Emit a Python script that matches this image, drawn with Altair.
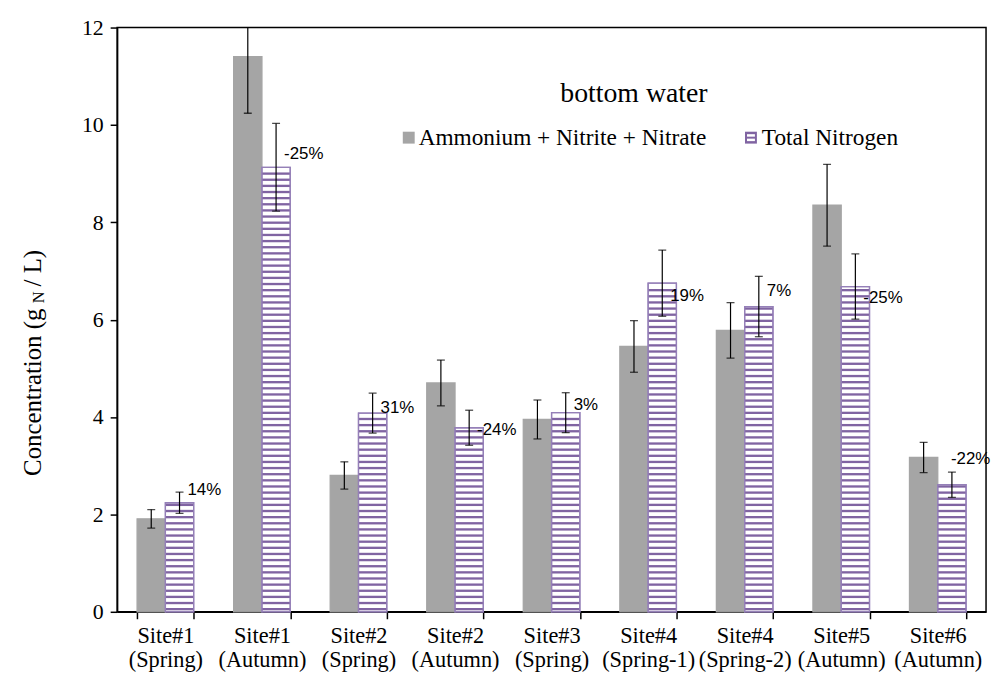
import altair as alt
import pandas as pd

# ---------------- data ----------------
categories = ["Site#1\n(Spring)", "Site#1\n(Autumn)", "Site#2\n(Spring)", "Site#2\n(Autumn)",
              "Site#3\n(Spring)", "Site#4\n(Spring-1)", "Site#4\n(Spring-2)", "Site#5\n(Autumn)",
              "Site#6\n(Autumn)"]
series = ["Ammonium + Nitrite + Nitrate", "Total Nitrogen"]
amn = [1.91, 11.40, 2.80, 4.70, 3.95, 5.45, 5.78, 8.35, 3.17]
amn_err = [0.19, 1.16, 0.28, 0.47, 0.40, 0.53, 0.57, 0.84, 0.31]
tn = [2.24, 9.13, 4.08, 3.78, 4.09, 6.75, 6.27, 6.68, 2.61]
tn_err = [0.22, 0.90, 0.41, 0.36, 0.41, 0.68, 0.62, 0.67, 0.26]
pct_labels = ["14%", "-25%", "31%", "-24%", "3%", "19%", "7%", "-25%", "-22%"]
pct_y = [2.50, 9.40, 4.19, 3.74, 4.25, 6.49, 6.59, 6.45, 3.13]
y_ticks = [0, 2, 4, 6, 8, 10, 12]

# ---------------- tables ----------------
rows = []
for i, c in enumerate(categories):
    rows.append(dict(cat=c, series=series[0], value=amn[i],
                     lo=amn[i] - amn_err[i], hi=amn[i] + amn_err[i]))
    rows.append(dict(cat=c, series=series[1], value=tn[i],
                     lo=tn[i] - tn_err[i], hi=tn[i] + tn_err[i]))
df = pd.DataFrame(rows)
tn_df = pd.DataFrame({"cat": categories, "value": tn, "series": series[1],
                      "pct": pct_labels, "py": pct_y})

GRAY = "#A5A5A5"
PURPLE = "#8064A2"
EDGE = "#9580B8"
SERIF = "Liberation Serif"

W, H = 876, 589

x_axis = alt.Axis(title=None, labelAngle=0, tickBand="extent", tickSize=7,
                  labelFont=SERIF, labelFontSize=22.5, labelLineHeight=24, labelPadding=6,
                  labelExpr="split(datum.label, '\\n')")
y_axis = alt.Axis(title=None, values=y_ticks, tickSize=7, labelPadding=7,
                  labelFont=SERIF, labelFontSize=22)
x_scale = alt.Scale(paddingInner=0.414, paddingOuter=0.207)
y_scale = alt.Scale(domain=[0, 12], nice=False, zero=True)


def X():
    return alt.X("cat:N", sort=categories, scale=x_scale, axis=x_axis)


def Y(field):
    return alt.Y(field, scale=y_scale, axis=y_axis)


xo = alt.XOffset("series:N", sort=series,
                 scale=alt.Scale(domain=series, paddingInner=0, paddingOuter=0))

bars = alt.Chart(df).mark_bar(strokeWidth=1.3).encode(
    x=X(), xOffset=xo, y=Y("value:Q"),
    fill=alt.Fill("series:N", scale=alt.Scale(domain=series, range=[GRAY, "#FFFFFF"]),
                  legend=None),
    stroke=alt.Stroke("series:N", scale=alt.Scale(domain=series, range=[GRAY, EDGE]),
                      legend=None),
)

stripes = alt.Chart(tn_df).transform_calculate(
    s="sequence(0.03, datum.value - 0.05, 0.126)"
).transform_flatten(["s"]).transform_calculate(
    s2="datum.s + 0.048"
).mark_bar(color=PURPLE).encode(
    x=X(), xOffset=xo, y=Y("s:Q"), y2="s2:Q",
)

tn_outline = alt.Chart(tn_df).mark_bar(fillOpacity=0, stroke=EDGE, strokeWidth=1.3).encode(
    x=X(), xOffset=xo, y=Y("value:Q")
)

err = alt.Chart(df).mark_rule(color="black", strokeWidth=1.2, clip=True).encode(
    x=X(), xOffset=xo, y=Y("lo:Q"), y2="hi:Q",
)
cap_lo = alt.Chart(df).mark_tick(color="black", thickness=1.3, size=8, clip=True).encode(
    x=X(), xOffset=xo, y=Y("lo:Q")
)
cap_hi = alt.Chart(df).mark_tick(color="black", thickness=1.3, size=8, clip=True).encode(
    x=X(), xOffset=xo, y=Y("hi:Q")
)

last_cat = categories[-1]
pct_main = alt.Chart(tn_df).transform_filter(
    alt.datum.cat != last_cat
).mark_text(align="left", baseline="middle", dx=8, font="Liberation Sans",
            fontSize=17, color="black").encode(
    x=X(), xOffset=xo, y=Y("py:Q"), text="pct:N"
)
pct_last = alt.Chart(tn_df).transform_filter(
    alt.datum.cat == last_cat
).mark_text(align="left", baseline="middle", dx=-1, font="Liberation Sans",
            fontSize=17, color="black").encode(
    x=X(), xOffset=xo, y=Y("py:Q"), text="pct:N"
)

one = pd.DataFrame({"k": [0]})

title_txt = alt.Chart(one).mark_text(font=SERIF, fontSize=28, align="center",
                                      baseline="middle", color="black",
                                      text="bottom water").encode(
    x=alt.value(521), y=alt.value(67))

leg_gray = alt.Chart(one).mark_rect(color=GRAY).encode(
    x=alt.value(288), x2=alt.value(300), y=alt.value(105), y2=alt.value(117))
leg_gray_t = alt.Chart(one).mark_text(font=SERIF, fontSize=23.5, align="left",
                                       baseline="middle", color="black",
                                       text=series[0]).encode(
    x=alt.value(304), y=alt.value(111))
leg_tn = alt.Chart(one).mark_rect(color=PURPLE).encode(
    x=alt.value(633), x2=alt.value(645), y=alt.value(105), y2=alt.value(117))
leg_tn_w1 = alt.Chart(one).mark_rect(color="white").encode(
    x=alt.value(635), x2=alt.value(643), y=alt.value(107.5), y2=alt.value(110))
leg_tn_w2 = alt.Chart(one).mark_rect(color="white").encode(
    x=alt.value(635), x2=alt.value(643), y=alt.value(112), y2=alt.value(114.5))
leg_tn_t = alt.Chart(one).mark_text(font=SERIF, fontSize=23.5, align="left",
                                     baseline="middle", color="black",
                                     text=series[1]).encode(
    x=alt.value(650), y=alt.value(111))

yt1 = alt.Chart(one).mark_text(font=SERIF, fontSize=25, align="left", baseline="middle",
                               angle=270, color="black",
                               text="Concentration  (g").encode(
    x=alt.value(-85), y=alt.value(452))
yt2 = alt.Chart(one).mark_text(font=SERIF, fontSize=16.5, align="left", baseline="middle",
                               angle=270, color="black", text="N").encode(
    x=alt.value(-79), y=alt.value(278))
yt3 = alt.Chart(one).mark_text(font=SERIF, fontSize=25, align="left", baseline="middle",
                               angle=270, color="black", text="/ L)").encode(
    x=alt.value(-85), y=alt.value(261))

chart = alt.layer(
    bars, stripes, tn_outline, err, cap_lo, cap_hi, pct_main, pct_last,
    title_txt, leg_gray, leg_gray_t, leg_tn, leg_tn_w1, leg_tn_w2, leg_tn_t,
    yt1, yt2, yt3,
).properties(
    width=W, height=H,
    autosize=alt.AutoSizeParams(type="none"),
    padding={"left": 110, "top": 17, "right": 5, "bottom": 60},
).configure_view(
    stroke="black", strokeWidth=1.5
).configure_axis(
    domainColor="black", domainWidth=1.5, tickColor="black", tickWidth=1.5,
    labelColor="black", labelFont=SERIF, grid=False,
)

chart.save("out.html", embed_options={"renderer": "svg", "actions": False})
